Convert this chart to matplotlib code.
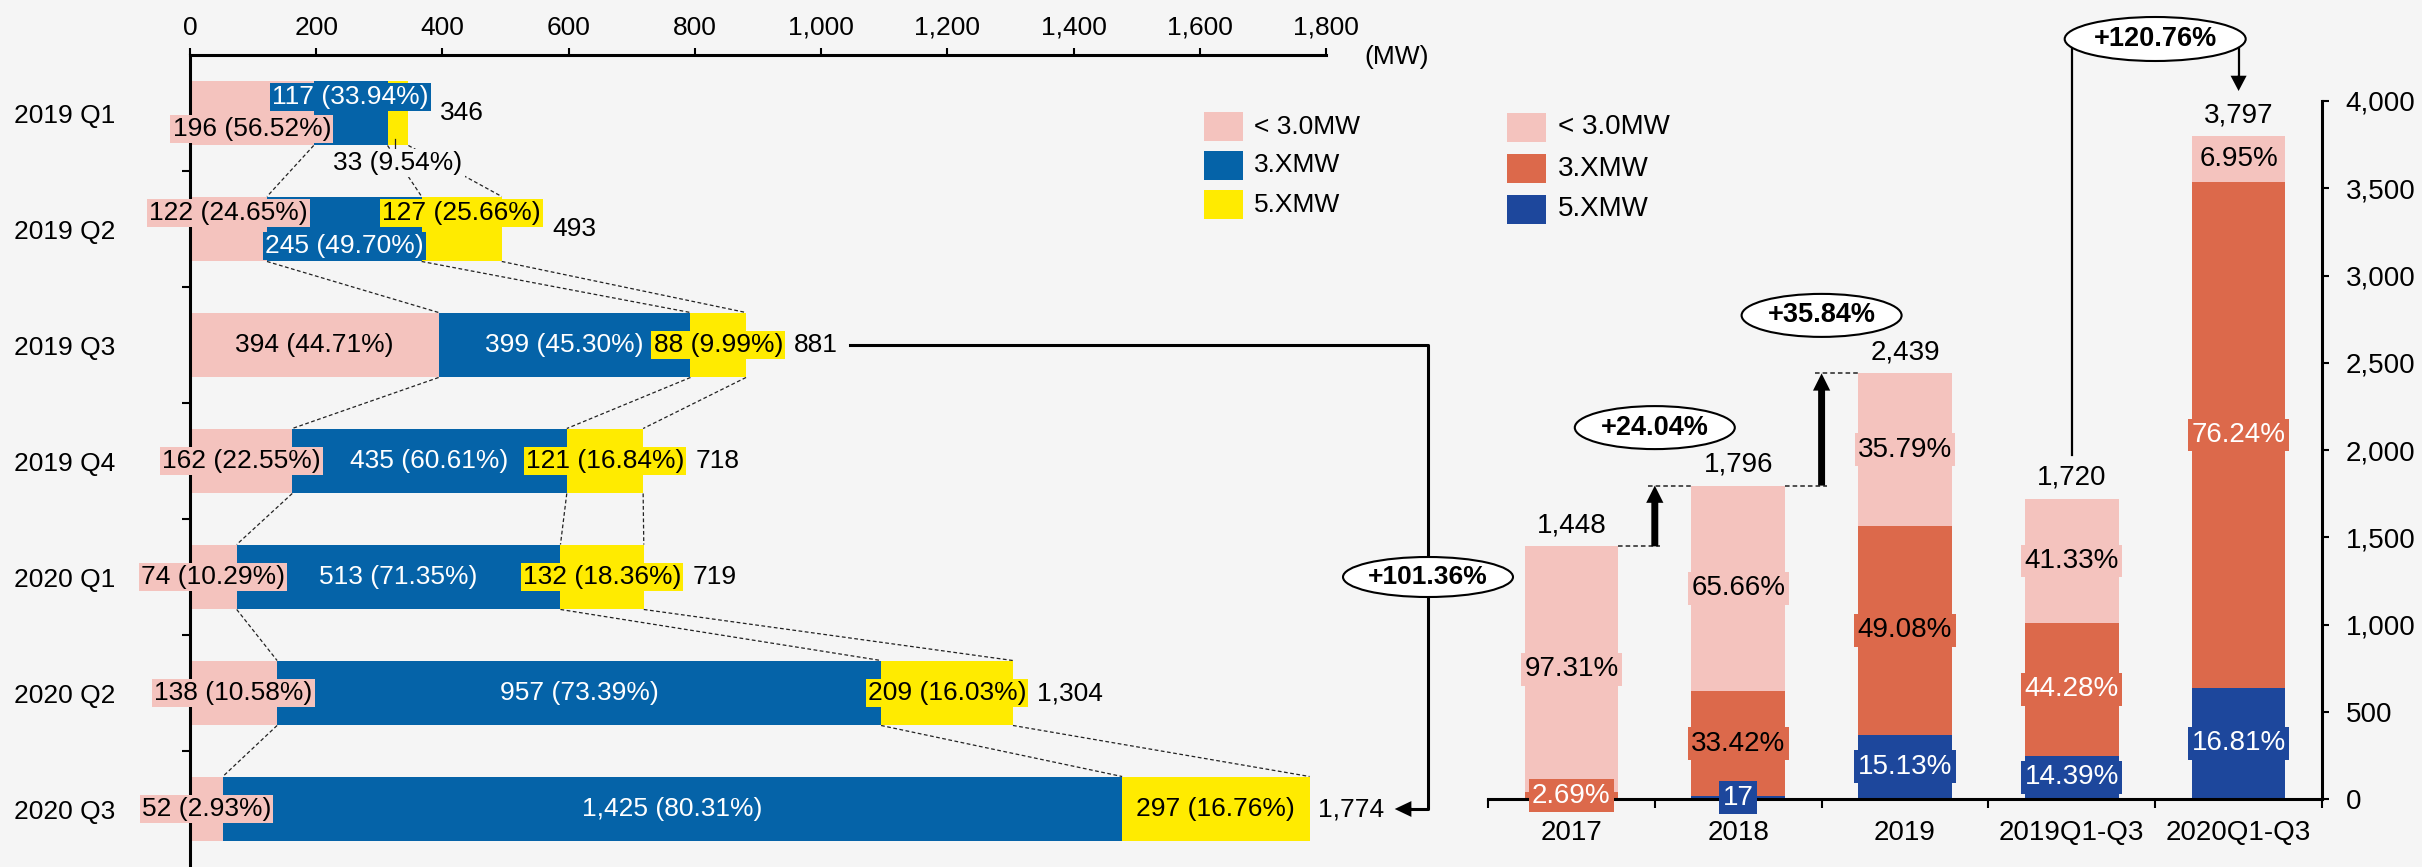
import matplotlib
matplotlib.use('Agg')
import matplotlib.pyplot as plt
from matplotlib.patches import Ellipse, Rectangle, FancyArrowPatch
from matplotlib.lines import Line2D

plt.rcParams['font.family'] = ['Liberation Sans', 'DejaVu Sans']

# ---------------- data: quarterly (left) ----------------
quarters = ['2019 Q1', '2019 Q2', '2019 Q3', '2019 Q4', '2020 Q1', '2020 Q2', '2020 Q3']
q_small = [196, 122, 394, 162, 74, 138, 52]          # < 3.0MW
q_3x = [117, 245, 399, 435, 513, 957, 1425]          # 3.XMW
q_5x = [33, 127, 88, 121, 132, 209, 297]             # 5.XMW
q_total = [346, 493, 881, 718, 719, 1304, 1774]
q_small_pct = ['56.52%', '24.65%', '44.71%', '22.55%', '10.29%', '10.58%', '2.93%']
q_3x_pct = ['33.94%', '49.70%', '45.30%', '60.61%', '71.35%', '73.39%', '80.31%']
q_5x_pct = ['9.54%', '25.66%', '9.99%', '16.84%', '18.36%', '16.03%', '16.76%']
q_growth = '+101.36%'

# ---------------- data: annual (right) ----------------
periods = ['2017', '2018', '2019', '2019Q1-Q3', '2020Q1-Q3']
y_small = [1409, 1179, 874, 711, 264]
y_3x = [39, 600, 1196, 761, 2895]
y_5x = [0, 17, 369, 248, 638]
y_total = [1448, 1796, 2439, 1720, 3797]
y_small_lbl = ['97.31%', '65.66%', '35.79%', '41.33%', '6.95%']
y_3x_lbl = ['2.69%', '33.42%', '49.08%', '44.28%', '76.24%']
y_5x_lbl = [None, '17', '15.13%', '14.39%', '16.81%']
y_growth = ['+24.04%', '+35.84%']
y_growth_q = '+120.76%'
legend_labels = ['< 3.0MW', '3.XMW', '5.XMW']

# ---------------- style / layout ----------------
BG = '#F5F5F5'
PINK = '#F4C3BE'
LBLUE = '#0563A8'
YELLOW = '#FFEB00'
ORANGE = '#DC694B'
DBLUE = '#1D479C'
W, H, DPI = 2422, 867, 100

# label vertical offsets for rows where labels are staggered
pink_dy = [0.14, -0.135, 0, 0, 0, 0, 0]
blue_dy = [-0.14, 0.145, 0, 0, 0, 0, 0]
yel_dy = [0.43, -0.135, 0, 0, 0, 0, 0]
orange_txt = ['white', 'black', 'black', 'white', 'white']

fig = plt.figure(figsize=(W / DPI, H / DPI), dpi=DPI, facecolor=BG)


def to_fig(xd, yd):
    return fig.transFigure.inverted().transform((xd, yd))


# ======================= LEFT CHART =======================
ax1 = fig.add_axes([190 / W, 0, 1136 / W, (H - 55) / H])
ax1.set_facecolor('none')
ax1.set_xlim(0, 1800)
ax1.set_ylim(6.5, -0.5)
for s in ['right', 'bottom']:
    ax1.spines[s].set_visible(False)
for s in ['top', 'left']:
    ax1.spines[s].set_linewidth(2.2)
ax1.xaxis.tick_top()
ax1.set_xticks(range(0, 1801, 200))
ax1.set_xticklabels([f'{v:,}' for v in range(0, 1801, 200)])
ax1.tick_params(axis='x', which='major', length=5, width=1.5, pad=6, labelsize=19, direction='out')
ax1.set_yticks(range(len(quarters)))
ax1.set_yticklabels(quarters)
ax1.tick_params(axis='y', which='major', length=0, pad=54, labelsize=19)
ax1.set_yticks([i + 0.5 for i in range(len(quarters) - 1)], minor=True)
ax1.tick_params(axis='y', which='minor', length=6, width=1.5, direction='out')

ypos = list(range(len(quarters)))
hb = 0.56
cum1 = [a for a in q_small]
cum2 = [a + b for a, b in zip(q_small, q_3x)]
cum3 = [a + b + c for a, b, c in zip(q_small, q_3x, q_5x)]
ax1.barh(ypos, q_small, height=hb, color=PINK, zorder=2)
ax1.barh(ypos, q_3x, left=cum1, height=hb, color=LBLUE, zorder=2)
ax1.barh(ypos, q_5x, left=cum2, height=hb, color=YELLOW, zorder=2)

# dashed connectors between consecutive quarters
for i in range(len(quarters) - 1):
    for arr in (cum1, cum2, cum3):
        ax1.add_line(Line2D([arr[i], arr[i + 1]], [i + hb / 2, i + 1 - hb / 2],
                            color='#222222', lw=0.9, ls=(0, (3, 2)), zorder=1.5))

row_labels = []
for i in range(len(quarters)):
    lbls = []
    t = ax1.text(q_small[i] / 2, i + pink_dy[i], f'{q_small[i]:,} ({q_small_pct[i]})',
                 ha='center', va='center', fontsize=19, color='black', zorder=4,
                 bbox=dict(boxstyle='square,pad=0.08', fc=PINK, ec='none'))
    lbls.append(t)
    t = ax1.text(cum1[i] + q_3x[i] / 2, i + blue_dy[i], f'{q_3x[i]:,} ({q_3x_pct[i]})',
                 ha='center', va='center', fontsize=19, color='white', zorder=4,
                 bbox=dict(boxstyle='square,pad=0.08', fc=LBLUE, ec='none'))
    lbls.append(t)
    if abs(yel_dy[i]) > 0.3:
        t = ax1.text(cum2[i] + q_5x[i] / 2, i + yel_dy[i], f'{q_5x[i]:,} ({q_5x_pct[i]})',
                     ha='center', va='center', fontsize=19, color='black', zorder=4,
                     bbox=dict(boxstyle='square,pad=0.08', fc=BG, ec='none'))
        ax1.add_line(Line2D([cum2[i] + q_5x[i] / 2 - 4] * 2, [i + 0.22, i + 0.30],
                            color='#222222', lw=0.9, zorder=3))
    else:
        t = ax1.text(cum2[i] + q_5x[i] / 2, i + yel_dy[i], f'{q_5x[i]:,} ({q_5x_pct[i]})',
                     ha='center', va='center', fontsize=19, color='black', zorder=4,
                     bbox=dict(boxstyle='square,pad=0.08', fc=YELLOW, ec='none'))
        lbls.append(t)
    row_labels.append(lbls)

# ======================= RIGHT CHART =======================
ax2 = fig.add_axes([1488 / W, (H - 799) / H, 834 / W, 698 / H])
ax2.set_facecolor('none')
ax2.set_xlim(-0.5, 4.5)
ax2.set_ylim(0, 4000)
for s in ['left', 'top']:
    ax2.spines[s].set_visible(False)
for s in ['right', 'bottom']:
    ax2.spines[s].set_linewidth(2.2)
ax2.yaxis.tick_right()
ax2.set_yticks(range(0, 4001, 500))
ax2.set_yticklabels([f'{v:,}' for v in range(0, 4001, 500)])
ax2.tick_params(axis='y', length=5, width=1.5, pad=12, labelsize=20, direction='out')
xp = list(range(len(periods)))
ax2.set_xticks(xp)
ax2.set_xticklabels(periods)
ax2.tick_params(axis='x', which='major', length=0, pad=15, labelsize=20)
ax2.set_xticks([i - 0.5 for i in range(len(periods) + 1)], minor=True)
ax2.tick_params(axis='x', which='minor', length=6.5, width=1.5, direction='out')

wb = 0.56
b2 = y_5x
b3 = [a + b for a, b in zip(y_5x, y_3x)]
ax2.bar(xp, y_5x, width=wb, color=DBLUE, zorder=2)
ax2.bar(xp, y_3x, bottom=b2, width=wb, color=ORANGE, zorder=2)
ax2.bar(xp, y_small, bottom=b3, width=wb, color=PINK, zorder=2)

for i in xp:
    ax2.text(i, b3[i] + y_small[i] / 2, y_small_lbl[i], ha='center', va='center', fontsize=20,
             color='black', zorder=4, clip_on=False,
             bbox=dict(boxstyle='square,pad=0.12', fc=PINK, ec='none'))
    ax2.text(i, b2[i] + y_3x[i] / 2, y_3x_lbl[i], ha='center', va='center', fontsize=20,
             color=orange_txt[i], zorder=4, clip_on=False,
             bbox=dict(boxstyle='square,pad=0.12', fc=ORANGE, ec='none'))
    if y_5x_lbl[i] is not None:
        ax2.text(i, y_5x[i] / 2, y_5x_lbl[i], ha='center', va='center', fontsize=20,
                 color='white', zorder=4, clip_on=False,
                 bbox=dict(boxstyle='square,pad=0.12', fc=DBLUE, ec='none'))
    ax2.annotate(f'{y_total[i]:,}', xy=(i, y_total[i]), xytext=(0, 21), textcoords='offset pixels',
                 ha='center', va='center', fontsize=20, zorder=4, annotation_clip=False)

# growth arrows 2017->2018, 2018->2019
for k in range(2):
    x = k + 0.5
    y0, y1 = y_total[k], y_total[k + 1]
    ax2.add_line(Line2D([k + wb / 2, x + 0.03], [y0, y0], color='#222222', lw=1.1, ls=(0, (3, 2)), zorder=3))
    ax2.add_line(Line2D([x - 0.04, k + 1 - wb / 2], [y1, y1], color='#222222', lw=1.1, ls=(0, (3, 2)), zorder=3))
    arr = FancyArrowPatch((x, y0), (x, y1),
                          arrowstyle='simple,head_length=0.62,head_width=0.62,tail_width=0.25',
                          mutation_scale=20, fc='black', ec='none', shrinkA=0, shrinkB=0,
                          transform=ax2.transData, zorder=4, clip_on=False)
    ax2.add_patch(arr)
    xd, yd = ax2.transData.transform((x, y1))
    cx, cy = to_fig(xd, yd + 58)
    fig.add_artist(Ellipse((cx, cy), 160 / W, 43 / H, transform=fig.transFigure,
                           fc='white', ec='black', lw=1.5, zorder=5))
    fig.text(cx, cy, y_growth[k], ha='center', va='center', fontsize=19.5,
             fontweight='bold', zorder=6)

# 2019Q1-Q3 -> 2020Q1-Q3
x3d, y3d = ax2.transData.transform((3, y_total[3]))
x4d, _ = ax2.transData.transform((4, y_total[4]))
ell_y = H - 39
tip_y = H - 91
pts = [to_fig(x3d, y3d + 44), to_fig(x3d, ell_y), to_fig(x4d, ell_y), to_fig(x4d, tip_y + 14)]
fig.add_artist(Line2D([p[0] for p in pts], [p[1] for p in pts], color='black', lw=1.6,
                      transform=fig.transFigure, zorder=4))
fig.add_artist(FancyArrowPatch(tuple(to_fig(x4d, tip_y + 16)), tuple(to_fig(x4d, tip_y)),
                               arrowstyle='simple,head_length=1.0,head_width=1.05,tail_width=0.1',
                               mutation_scale=11, fc='black', ec='none', shrinkA=0, shrinkB=0,
                               transform=fig.transFigure, zorder=4))
ecx, ecy = to_fig((x3d + x4d) / 2, ell_y)
fig.add_artist(Ellipse((ecx, ecy), 181 / W, 44 / H, transform=fig.transFigure,
                       fc='white', ec='black', lw=1.5, zorder=5))
fig.text(ecx, ecy, y_growth_q, ha='center', va='center', fontsize=19.5, fontweight='bold', zorder=6)

# ======================= totals on left chart (need text extents) =======================
fig.canvas.draw()
rend = fig.canvas.get_renderer()
tot_texts = []
for i in range(len(quarters)):
    xs = [ax1.transData.transform((cum3[i], i))[0]]
    for t in row_labels[i]:
        xs.append(t.get_window_extent(rend).x1 + 3)
    xd = max(xs) + 8
    _, yd = ax1.transData.transform((0, i))
    fx, fy = to_fig(xd, yd)
    tt = fig.text(fx, fy, f'{q_total[i]:,}', ha='left', va='center', fontsize=19, zorder=6)
    tot_texts.append(tt)
fig.canvas.draw()

# connector from 2019 Q3 total to 2020 Q3 total
CONN_X = 1428
bb_a = tot_texts[2].get_window_extent(rend)
bb_b = tot_texts[6].get_window_extent(rend)
ya = (bb_a.y0 + bb_a.y1) / 2
yb = (bb_b.y0 + bb_b.y1) / 2
pts = [to_fig(bb_a.x1 + 12, ya), to_fig(CONN_X, ya), to_fig(CONN_X, yb), to_fig(bb_b.x1 + 26, yb)]
fig.add_artist(Line2D([p[0] for p in pts], [p[1] for p in pts], color='black', lw=2.2,
                      transform=fig.transFigure, zorder=4))
fig.add_artist(FancyArrowPatch(tuple(to_fig(bb_b.x1 + 28, yb)), tuple(to_fig(bb_b.x1 + 11, yb)),
                               arrowstyle='simple,head_length=1.0,head_width=0.95,tail_width=0.15',
                               mutation_scale=12, fc='black', ec='none', shrinkA=0, shrinkB=0,
                               transform=fig.transFigure, zorder=4))
_, row4_y = ax1.transData.transform((0, 4))
ex, ey = to_fig(CONN_X, row4_y)
fig.add_artist(Ellipse((ex, ey), 170 / W, 40 / H, transform=fig.transFigure,
                       fc='white', ec='black', lw=1.5, zorder=5))
fig.text(ex, ey, q_growth, ha='center', va='center', fontsize=19, fontweight='bold', zorder=6)

# (MW) unit label
fig.text(1364 / W, 1 - 57 / H, '(MW)', ha='left', va='center', fontsize=19)

# ======================= legends =======================
def legend(x_sq, tops, colors, x_lbl, size):
    for top, c, lab in zip(tops, colors, legend_labels):
        fig.add_artist(Rectangle((x_sq / W, 1 - (top + 29) / H), 39 / W, 29 / H,
                                 transform=fig.transFigure, fc=c, ec='none'))
        fig.text(x_lbl / W, 1 - (top + 14.5) / H, lab, ha='left', va='center', fontsize=size)


legend(1204, [112, 151, 190], [PINK, LBLUE, YELLOW], 1254, 19)
legend(1507, [113, 154, 195], [PINK, ORANGE, DBLUE], 1558, 20)

fig.savefig('out.png', dpi=DPI, facecolor=BG)
